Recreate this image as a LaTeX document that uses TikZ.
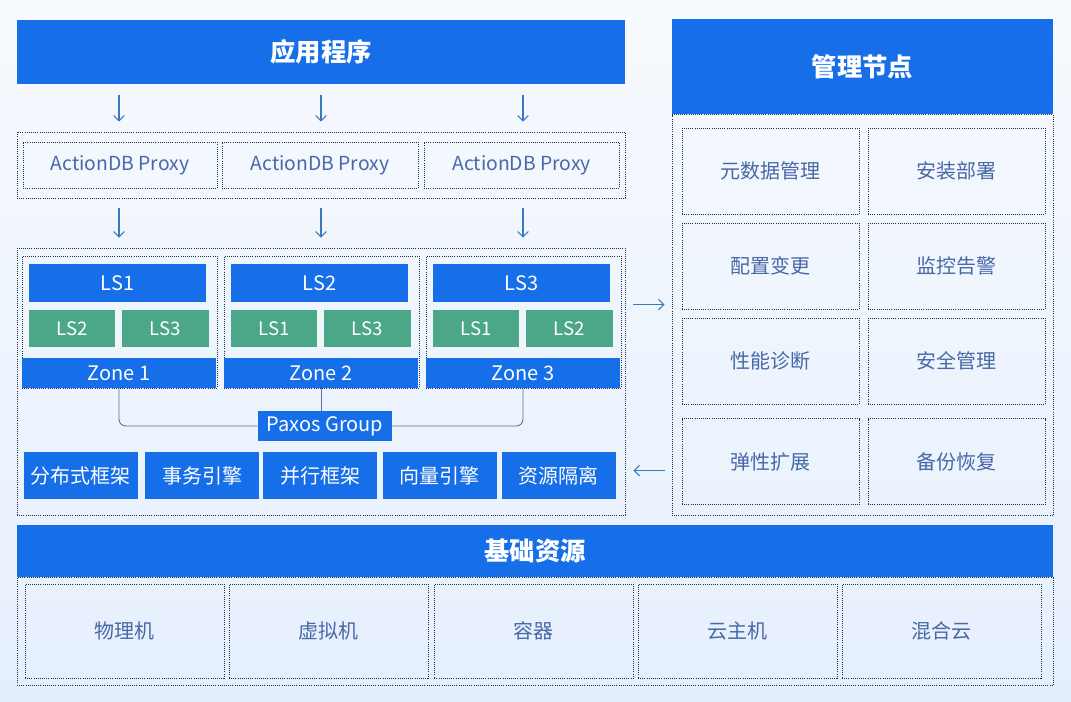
\documentclass[tikz,border=0pt]{standalone}
\usepackage{fontspec}
\setmainfont{Noto Sans CJK SC}
\usetikzlibrary{calc,arrows.meta}
\definecolor{appblue}{RGB}{22,111,232}
\definecolor{lsgreen}{RGB}{76,166,136}
\definecolor{txtblue}{RGB}{72,104,168}
\definecolor{arrblue}{RGB}{58,120,192}
\definecolor{lineblue}{RGB}{84,116,164}
\definecolor{dotgray}{RGB}{30,50,68}
\definecolor{bgtop}{RGB}{247,250,254}
\definecolor{bgbot}{RGB}{229,239,252}
\begin{document}
\begin{tikzpicture}[x=0.75pt, y=-0.75pt,
	sz/.style 2 args={minimum width=#1*0.75pt, minimum height=#2*0.75pt},
	bar/.style={fill=appblue, text=white, inner sep=0pt, font=\fontsize{15}{18}\selectfont},
	head/.style={bar, font=\fontsize{19}{22}\selectfont\bfseries},
	lsbox/.style={fill=lsgreen, text=white, inner sep=0pt, font=\fontsize{14}{17}\selectfont},
	dotbox/.style={draw=dotgray, densely dotted, line width=0.6pt, inner sep=0pt},
	cell/.style={dotbox, text=txtblue, font=\fontsize{15}{18}\selectfont},
	pline/.style={lineblue, line width=0.7pt},
	arr/.style={-{Straight Barb[length=4pt, width=8pt]}, arrblue, line width=0.8pt}]
	\shade[top color=bgtop, bottom color=bgbot] (0,0) rectangle (1071,701);
	\useasboundingbox (0,0) rectangle (1071,701);

	\node[head, sz={608}{64}] (app) at (321,52) {应用程序};
	\node[dotbox, sz={608}{66}] (proxies) at (321,165) {};
	\node[cell, sz={194}{46}, font=\fontsize{14.5}{17}\selectfont] (p1) at (120,165) {ActionDB Proxy};
	\node[cell, sz={196}{46}, font=\fontsize{14.5}{17}\selectfont] (p2) at (320,165) {ActionDB Proxy};
	\node[cell, sz={195}{46}, font=\fontsize{14.5}{17}\selectfont] (p3) at (521.5,165) {ActionDB Proxy};

	\node[dotbox, sz={608}{267}] (zones) at (321,381.5) {};
	\foreach \i/\x/\a/\b/\c in {1/22/1/2/3, 2/224/2/1/3, 3/426/3/1/2} {
		\node[dotbox, sz={195}{132}] (z\i) at (\x+97.5,322) {};
		\node[bar, sz={177}{38}] (top\i) at (\x+95.5,283) {LS\a};
		\node[lsbox, sz={86}{37}] (l\i) at (\x+50,328.5) {LS\b};
		\node[lsbox, sz={87}{37}] (r\i) at (\x+143.5,328.5) {LS\c};
		\node[bar, sz={194}{30}] (zone\i) at (\x+97,373) {Zone \i};
	}
	\foreach \n in {1,2,3} {
		\draw[arr] ([yshift=-11*0.75pt]app.south -| zone\n) -- ([yshift=10*0.75pt]proxies.north -| zone\n);
		\draw[arr] ([yshift=-10*0.75pt]proxies.south -| zone\n) -- ([yshift=10*0.75pt]zones.north -| zone\n);
	}

	\node[bar, sz={134}{30}] (paxos) at (325,426) {Paxos Group};
	\draw[pline, rounded corners=5pt] (zone1.south) |- (paxos.west);
	\draw[pline] (zone2.south) -- (zone2.south |- paxos.north);
	\draw[pline, rounded corners=5pt] (zone3.south) |- (paxos.east);

	\foreach \n/\x/\t in {e1/81/分布式框架, e2/202/事务引擎, e3/320/并行框架, e4/439.5/向量引擎, e5/558.5/资源隔离}
		\node[bar, sz={114}{47}] (\n) at (\x,475.5) {\t};

	\node[head, sz={381}{95}] (mgmt) at (862.5,66.5) {管理节点};
	\node[dotbox, sz={381}{401}, anchor=north] (mgmtbox) at (mgmt.south) {};
	\foreach \t/\x/\y [count=\i] in {元数据管理/770.5/171, 安装部署/956.5/171, 配置变更/770.5/266, 监控告警/956.5/266, 性能诊断/770.5/361, 安全管理/956.5/361, 弹性扩展/770.5/461.5, 备份恢复/956.5/461.5}
		\node[cell, sz={177}{86}] (m\i) at (\x,\y) {\t};

	\draw[arr] ($(zones.north east)+(8,57)$) -- ($(mgmtbox.west |- zones.north)+(-7,57)$);
	\draw[arr] ($(mgmtbox.west |- zones.north)+(-7,223)$) -- ($(zones.north east)+(8,223)$);

	\node[head, sz={1036}{52}] (base) at (535,551) {基础资源};
	\node[dotbox, sz={1036}{108}, anchor=north] (basebox) at (base.south) {};
	\foreach \t/\x [count=\i] in {物理机/124.5, 虚拟机/328.5, 容器/533.75, 云主机/737.5, 混合云/941.5}
		\node[cell, sz={199}{94}] (b\i) at (\x,631) {\t};
\end{tikzpicture}
\end{document}
